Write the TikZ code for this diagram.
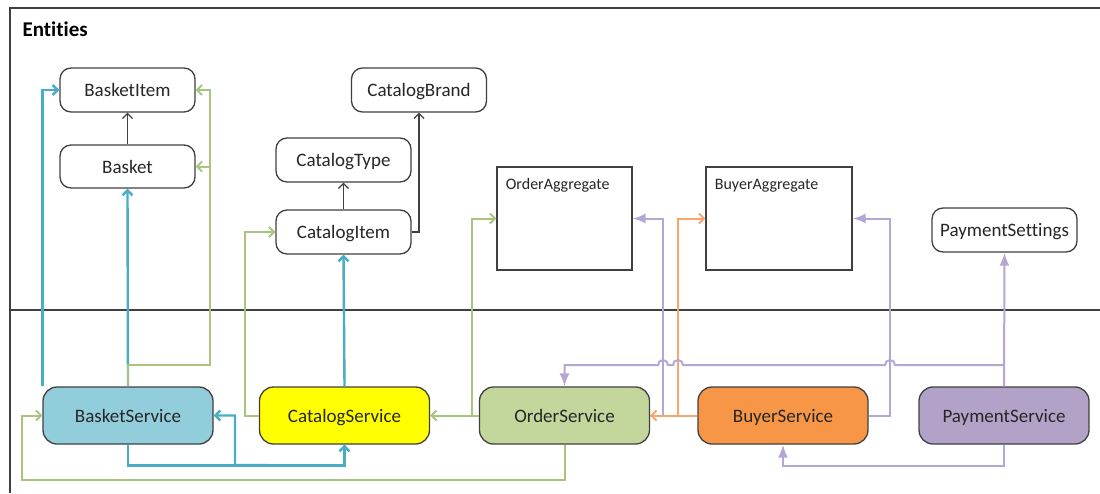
\documentclass[tikz,border=0pt]{standalone}
\usepackage{fontspec}
\setmainfont{Carlito}[Ligatures=NoCommon]
\usepackage{tikz}
\usetikzlibrary{arrows.meta}
\usetikzlibrary{calc}

\definecolor{boxgray}{HTML}{404040}
\definecolor{txtgray}{HTML}{262626}
\definecolor{basketfill}{HTML}{92CDDC}
\definecolor{catalogfill}{HTML}{FFFF00}
\definecolor{orderfill}{HTML}{C3D69B}
\definecolor{buyerfill}{HTML}{F79646}
\definecolor{paymentfill}{HTML}{B3A2C7}
\definecolor{blueline}{HTML}{4BACC6}
\definecolor{greenline}{HTML}{A9C47F}
\definecolor{orangeline}{HTML}{F9A56E}
\definecolor{purpleline}{HTML}{B4A7D6}

\tikzset{
	>={Straight Barb[length=5pt,width=10pt]},
	entity/.style={draw=boxgray, line width=1.3pt, rounded corners=11pt, fill=white,
		minimum width=135pt, minimum height=44pt, text=txtgray,
		text height=16pt, text depth=3pt,
		font=\fontsize{19}{22}\selectfont},
	aggregate/.style={draw=boxgray, line width=1.3pt, fill=white,
		minimum width=135pt, minimum height=103pt},
	service/.style={entity, rounded corners=14pt, minimum width=170pt, minimum height=57pt},
	blueconn/.style={->, blueline, line width=2.4pt},
	greenconn/.style={->, greenline, line width=2pt},
	orangeconn/.style={->, orangeline, line width=2pt},
	purpleconn/.style={-{Latex[length=13pt,width=10pt]}, purpleline, line width=2pt},
	blackconn/.style={->, boxgray, line width=1.3pt},
}

\begin{document}
\begin{tikzpicture}[x=1pt,y=-1pt]
		\useasboundingbox (0,0) rectangle (1100,493);
		% frame and divider
		\draw[boxgray, line width=1.4pt] (1100,8) -- (10,8) -- (10,493);
		\draw[boxgray, line width=1.4pt] (10,310) -- (1100,310);
		\node[anchor=west, text=black, font=\fontsize{21}{25}\selectfont\bfseries] (title) at (19,29) {Entities};

		% entities
		\node[entity] (bitem) at (127.5,90) {BasketItem};
		\node[entity, minimum height=43pt] (basket) at (127.5,166.5) {Basket};
		\node[entity] (cbrand) at (419,90) {CatalogBrand};
		\node[entity] (ctype) at (343.5,160) {CatalogType};
		\node[entity] (citem) at (343.5,232) {CatalogItem};
		\node[entity, minimum width=145pt] (pset) at (1004.5,230) {PaymentSettings};
		\node[aggregate, label={[anchor=north west, text=txtgray, font=\fontsize{16}{19}\selectfont, xshift=6pt, yshift=-9pt]north west:OrderAggregate}] (oagg) at (564.5,218.5) {};
		\node[aggregate, minimum width=146pt, label={[anchor=north west, text=txtgray, font=\fontsize{16}{19}\selectfont, xshift=6pt, yshift=-9pt]north west:BuyerAggregate}] (bagg) at (779,218.5) {};

		% services
		\node[service, fill=basketfill] (bsvc) at (128,415.5) {BasketService};
		\node[service, fill=catalogfill] (csvc) at (344.5,415.5) {CatalogService};
		\node[service, fill=orderfill] (osvc) at (564.5,415.5) {OrderService};
		\node[service, fill=buyerfill] (bysvc) at (783,415.5) {BuyerService};
		\node[service, fill=paymentfill] (psvc) at (1004,415.5) {PaymentService};

		% entity links
		\draw[blackconn] (basket.north) -- (bitem.south);
		\draw[blackconn] (citem.north) -- (ctype.south);
		\draw[blackconn] (citem.east) -| (cbrand.south);

		% basket / catalog service links
		\draw[blueconn] (bsvc.north west) -- (bsvc.north west |- bitem.west) -- (bitem.west);
		\draw[blueconn] (bsvc.north) -- (basket.south);
		\draw[blueconn] (bsvc.south) -- ++(0,21) -| (csvc.south);
		\draw[blueconn] (csvc.south) -- ++(0,21) -- (235,465) |- (bsvc.east);
		\draw[blueconn] (csvc.north) -- (citem.south);
		\draw[greenconn] (bsvc.north) -- ++(0,-21) -| (210,90) -- (bitem.east);
		\draw[greenconn] (210,166.5) -- (basket.east);
		\draw[greenconn] (csvc.west) -- (245,415.5) |- (citem.west);

		% order service links
		\draw[greenconn] (osvc.west) -- (csvc.east);
		\draw[greenconn] (472,415.5) |- (oagg.west);
		\draw[greenconn] (osvc.south) -- ++(0,35) -| (22,415.5) -- (bsvc.west);
		\draw[purpleconn] (osvc.east) -- (663,415.5) |- (oagg.east);

		% buyer service links
		\draw[orangeconn] (bysvc.west) -- (osvc.east);
		\draw[orangeconn] (678,415.5) |- (bagg.west);
		\draw[purpleconn] (bysvc.east) -- (890,415.5) |- (bagg.east);

		% payment service links
		\draw[purpleconn] (psvc.north) -- (pset.south);
		\draw[purpleconn] (psvc.north |- 0,365) -- (895,365) arc[start angle=0, end angle=180, radius=5pt]
			-- (683,365) arc[start angle=0, end angle=180, radius=5pt]
			-- (668,365) arc[start angle=0, end angle=180, radius=5pt]
			-| (osvc.north);
		\draw[purpleconn] (psvc.south) -- ++(0,21) -| (bysvc.south);
\end{tikzpicture}
\end{document}
